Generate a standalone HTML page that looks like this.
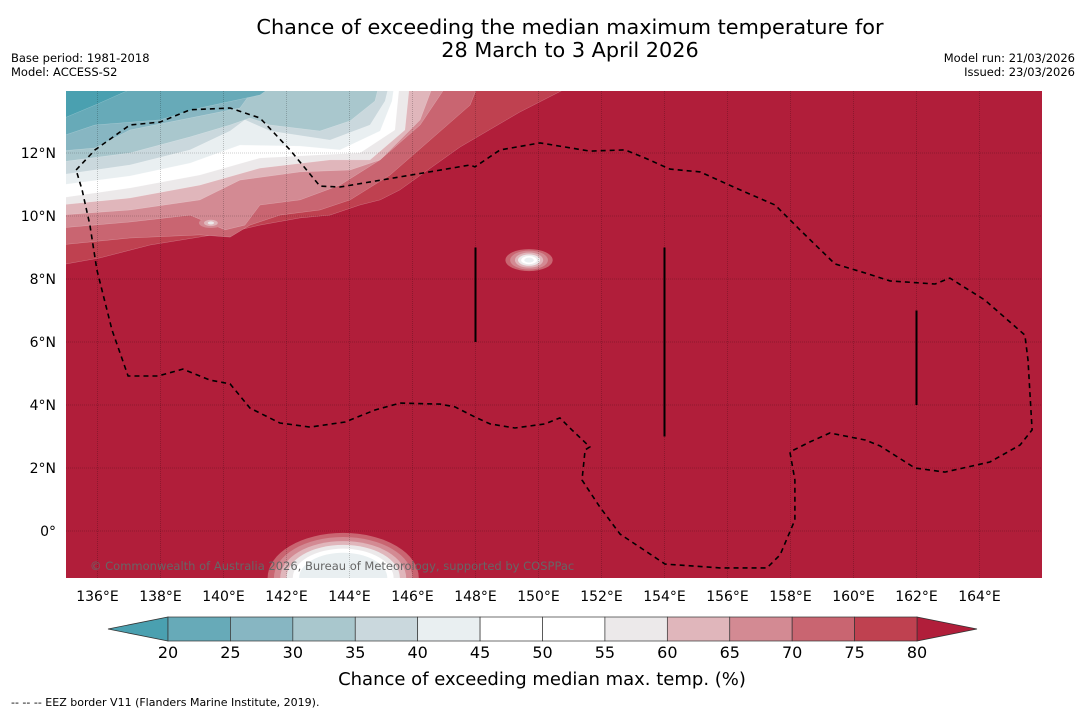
<!DOCTYPE html>
<html><head><meta charset="utf-8"><style>
body{margin:0;background:#fff;font-family:"Liberation Sans","DejaVu Sans",sans-serif}
svg text{font-family:"DejaVu Sans","Liberation Sans",sans-serif}
</style></head><body>
<svg id="c" width="1085" height="713" xmlns="http://www.w3.org/2000/svg">
<rect width="1085" height="713" fill="#fff"/>
<text x="570" y="34" font-size="20.8" text-anchor="middle">Chance of exceeding the median maximum temperature for</text>
<text x="570" y="57" font-size="20.8" text-anchor="middle">28 March to 3 April 2026</text>
<text x="11" y="62" font-size="11.5">Base period: 1981-2018</text>
<text x="11" y="76" font-size="11.5">Model: ACCESS-S2</text>
<text x="1075" y="62" font-size="11.5" text-anchor="end">Model run: 21/03/2026</text>
<text x="1075" y="76" font-size="11.5" text-anchor="end">Issued: 23/03/2026</text>
<defs><clipPath id="mc"><rect x="66" y="91" width="976" height="487"/></clipPath></defs>
<g id="map" clip-path="url(#mc)"></g>
<g id="grid"></g>
<g id="ticks"></g>
<text x="90" y="570" font-size="11.5" fill="#666">© Commonwealth of Australia 2026, Bureau of Meteorology, supported by COSPPac</text>
<g id="cbar"></g>
<text x="542" y="685" font-size="18" text-anchor="middle">Chance of exceeding median max. temp. (%)</text>
<text x="11" y="706" font-size="11">--  --  -- EEZ border V11 (Flanders Marine Institute, 2019).</text>
</svg>
<script>
const lonTicks=[136,138,140,142,144,146,148,150,152,154,156,158,160,162,164];
const latTicks=[0,2,4,6,8,10,12];
const levels=[20,25,30,35,40,45,50,55,60,65,70,75,80];
const bandColors=["#67aab8","#87b6c2","#a9c7cd","#cad8dd","#e9eff1","#ffffff","#ffffff","#ece9ea","#e0b6bb","#d38a93","#c96571","#bf4150"];
const underColor="#4aa0b0", overColor="#b11e3a";
const contours=[
[80,[[134.8,8.44],[136.08,8.67],[137.67,9.08],[140.21,9.49],[141.16,9.71],[142.43,9.94],[143.38,10.03],[144.33,10.35],[144.97,10.51],[145.60,10.83],[147.51,12.19],[149.41,13.3],[150.78,14.0],[151.0,14.3]]],
[75,[[134.8,9.08],[137.03,9.30],[139.25,9.40],[140.21,9.33],[140.84,9.71],[141.79,10.03],[143.06,10.19],[144.02,10.51],[145.29,11.30],[146.56,12.41],[147.83,13.52],[148.14,14.3]]],
[70,[[134.8,9.62],[137.03,9.81],[138.94,10.03],[140.05,9.56],[140.68,9.71],[141.16,10.35],[142.43,10.51],[143.70,10.98],[144.97,11.78],[146.24,12.89],[147.19,14.3]]],
[65,[[134.8,10.03],[137.03,10.19],[139.25,10.51],[140.52,11.14],[142.43,11.40],[144.02,11.46],[144.97,11.78],[146.24,13.05],[146.71,14.3]]],
[60,[[134.8,10.35],[137.03,10.57],[139.25,10.98],[141.16,11.52],[143.38,11.78],[144.65,11.78],[145.76,12.73],[145.92,14.3]]],
[55,[[134.8,10.57],[137.03,10.89],[139.25,11.30],[141.16,11.84],[143.06,11.94],[144.33,12.0],[145.44,12.73],[145.6,14.3]]],
[45,[[134.8,10.98],[137.03,11.27],[138.94,11.68],[140.52,12.25],[142.43,12.22],[143.70,12.10],[144.97,12.70],[145.35,13.65],[145.44,14.3]]],
[40,[[134.8,11.30],[137.03,11.62],[138.94,12.10],[140.21,12.70],[140.68,13.05],[141.48,12.70],[143.38,12.41],[144.65,12.89],[145.13,13.65],[145.29,14.3]]],
[35,[[134.8,11.71],[137.03,12.0],[138.94,12.51],[140.21,12.89],[140.84,13.11],[141.48,12.89],[143.06,12.70],[144.02,13.02],[144.81,13.65],[144.97,14.3]]],
[30,[[134.8,12.06],[135.92,12.16],[137.03,12.73],[138.94,13.11],[140.52,13.43],[141.16,14.3]]],
[25,[[134.8,12.51],[135.92,12.89],[137.98,13.05],[139.25,13.43],[141.16,13.84],[141.79,14.3]]],
[20,[[134.8,13.05],[135.92,13.52],[137.0,14.0],[137.1,14.3]]]
];
const blobCenters=[[143.8,-1.49],[149.7,8.6],[141.6,10.83],[139.6,9.78]];
const blobRx=[[2.4,2.2,2.0,1.8,1.6,1.4],[0.75,0.6,0.45,0.35,0.25,0.15],[0.62],[0.38,0.22,0.1]];
const blobRy=[[1.43,1.3,1.17,1.05,0.93,0.8],[0.35,0.3,0.24,0.18,0.13,0.08],[0.27],[0.16,0.1,0.05]];
const blobLevels=[[75,70,65,60,55,45],[75,70,65,60,55,45],[70],[70,65,60]];
const eez=[[135.32,11.46],[135.92,12.10],[137.03,12.89],[137.98,12.98],[138.94,13.37],[140.21,13.43],[141.16,13.11],[142.11,12.10],[143.06,10.95],[143.70,10.92],[145.60,11.24],[147.83,11.62],[147.98,11.56],[148.78,12.10],[150.05,12.32],[151.63,12.06],[152.75,12.10],[153.38,11.84],[154.17,11.49],[155.13,11.40],[156.40,10.83],[157.51,10.35],[158.30,9.56],[159.41,8.48],[160.37,8.19],[161.16,7.94],[162.59,7.84],[163.06,8.03],[164.17,7.33],[165.44,6.22],[165.54,5.43],[165.67,3.21],[165.29,2.73],[164.33,2.19],[162.90,1.87],[161.95,2.00],[160.84,2.70],[160.37,2.89],[159.25,3.11],[158.62,2.83],[157.98,2.51],[158.14,1.62],[158.14,0.35],[157.67,-0.76],[157.25,-1.17],[155.76,-1.17],[154.02,-1.05],[152.59,-0.10],[151.95,0.76],[151.38,1.62],[151.48,2.57],[151.63,2.67],[151.06,3.21],[150.68,3.59],[150.21,3.40],[149.25,3.27],[148.46,3.40],[147.98,3.62],[147.35,3.94],[146.87,4.03],[145.60,4.06],[144.81,3.84],[143.86,3.46],[142.75,3.30],[141.79,3.43],[140.84,3.90],[140.21,4.67],[139.57,4.79],[138.71,5.14],[137.92,4.92],[136.97,4.92],[136.46,6.38],[135.98,8.29],[135.76,9.71],[135.51,10.83],[135.32,11.46]];
const segs=[[148,9,6],[154,9,3],[162,7,4]];

const NS="http://www.w3.org/2000/svg";
const X=lon=>66+(lon-135)*31.5;
const Y=lat=>531-lat*31.5;
function mk(t,a,p){const e=document.createElementNS(NS,t);for(const k in a)e.setAttribute(k,a[k]);p.appendChild(e);return e;}
function colorOf(lv){const i=levels.indexOf(lv);return i>0?bandColors[i-1]:underColor;}
const map=document.getElementById('map');
const bg=mk('rect',{x:66,y:91,width:976,height:487,fill:overColor},map);


contours.forEach(([lv,pts])=>{
  let d='M'+pts.map(p=>X(p[0]).toFixed(1)+','+Y(p[1]).toFixed(1)).join('L');
  d+='L'+X(134)+','+Y(14.5)+'L'+X(134)+','+Y(pts[0][1])+'Z';
  const e=mk('path',{d:d,fill:colorOf(lv),stroke:'rgba(255,255,255,0.3)','stroke-width':0.5},map);
  
  
});
blobCenters.forEach((c,bi)=>{
  blobRx[bi].forEach((r,k)=>{
    const e=mk('ellipse',{cx:X(c[0]),cy:Y(c[1]),rx:r*31.5,ry:blobRy[bi][k]*31.5,fill:colorOf(blobLevels[bi][k])},map);
    
    
  });
});
const grid=document.getElementById('grid');
lonTicks.forEach(l=>{const e=mk('line',{x1:X(l),x2:X(l),y1:91,y2:578,stroke:'rgba(0,0,0,0.25)','stroke-width':0.8,'stroke-dasharray':'1 1'},grid);

});
latTicks.forEach(l=>{const e=mk('line',{x1:66,x2:1042,y1:Y(l),y2:Y(l),stroke:'rgba(0,0,0,0.25)','stroke-width':0.8,'stroke-dasharray':'1 1'},grid);

});
const ez=mk('polyline',{points:eez.map(p=>X(p[0]).toFixed(1)+','+Y(p[1]).toFixed(1)).join(' '),fill:'none',stroke:'#000','stroke-width':1.6,'stroke-dasharray':'5 4'},grid);


segs.forEach(s=>{const e=mk('line',{x1:X(s[0]),x2:X(s[0]),y1:Y(s[1]),y2:Y(s[2]),stroke:'#000','stroke-width':2},grid);

});
const tk=document.getElementById('ticks');
lonTicks.forEach(l=>{const e=mk('text',{x:X(l),y:601,'font-size':14,'text-anchor':'middle'},tk);e.textContent=l+'°E';

});
latTicks.forEach(l=>{const e=mk('text',{x:56,y:Y(l)+5,'font-size':14,'text-anchor':'end'},tk);e.textContent=l===0?'0°':l+'°N';

});
const cb=document.getElementById('cbar');
const CX=v=>168+(v-20)*(917-168)/60;
const t1=mk('polygon',{points:`108,629 168,617 168,641`,fill:underColor,stroke:'#333','stroke-width':0.8},cb);


const t2=mk('polygon',{points:`917,617 977,629 917,641`,fill:overColor,stroke:'#333','stroke-width':0.8},cb);


bandColors.forEach((c,i)=>{const e=mk('rect',{x:CX(levels[i]),y:617,width:CX(levels[i+1])-CX(levels[i]),height:24,fill:c,stroke:'#333','stroke-width':0.7},cb);

});
levels.forEach(v=>{const e=mk('text',{x:CX(v),y:658,'font-size':16,'text-anchor':'middle'},cb);e.textContent=v;

});
</script>
</body></html>
